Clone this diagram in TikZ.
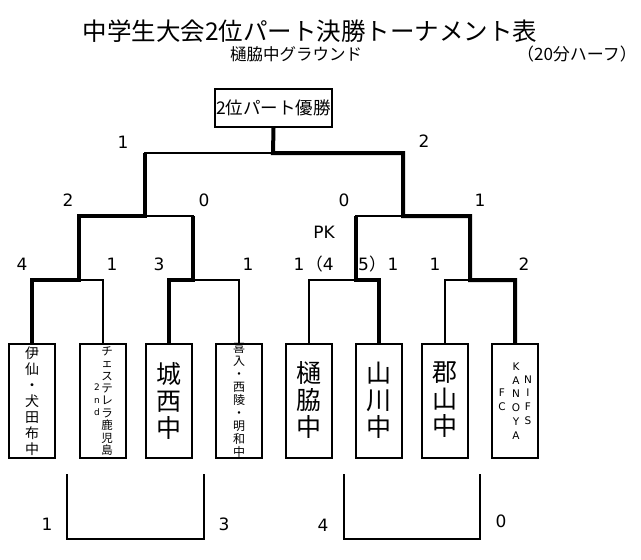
\documentclass[tikz,border=0pt]{standalone}
\usepackage{fontspec}
\newfontfamily\jp{Noto Sans CJK JP}
\newfontfamily\dv{DejaVu Sans}
\begin{document}
\begin{tikzpicture}[x=1pt,y=-1pt,
  thinl/.style={line width=1.8pt, line cap=rect},
  thickl/.style={line width=4pt, line join=miter},
  teambox/.style={draw, line width=2pt, minimum width=46pt, minimum height=114pt, inner sep=0pt},
  score/.style={font=\dv\fontsize{17}{17}\selectfont, inner sep=0pt, text height=12.4pt, text depth=0pt},
  colsmall/.style={font=\jp\fontsize{11.5}{12.4}\selectfont, align=center, inner sep=0pt},
  colmid/.style={font=\jp\fontsize{12}{13}\selectfont, align=center, inner sep=0pt},
  colone/.style={font=\jp\fontsize{14}{16}\selectfont, align=center, inner sep=0pt},
  colbig/.style={font=\jp\fontsize{25}{27}\selectfont, align=center, inner sep=0pt},
  collat/.style={font=\dv\fontsize{10.5}{13.7}\selectfont, align=center, inner sep=0pt},
  colnd/.style={font=\dv\fontsize{9}{12.5}\selectfont, align=center, inner sep=0pt}]
\useasboundingbox[fill=white] (0,0) rectangle (641,560);

% titles
\node[font=\jp\fontsize{24.5}{24.5}\selectfont, inner sep=0pt] (title) at (310,31) {中学生大会2位パート決勝トーナメント表};
\node[font=\jp\fontsize{16.5}{16.5}\selectfont, inner sep=0pt] (ground) at (296,54) {樋脇中グラウンド};
\node[font=\jp\fontsize{17}{17}\selectfont, inner sep=0pt] (half) at (577,54) {（20分ハーフ）};

% top box
\node[draw, line width=2pt, minimum width=117pt, minimum height=38pt, inner sep=0pt,
      font=\jp\fontsize{17.5}{17.5}\selectfont] (top) at (273.5,108) {2位パート優勝};

% team boxes
\node[teambox] (b1) at (32,401) {};
\node[teambox] (b2) at (103,401) {};
\node[teambox] (b3) at (169,401) {};
\node[teambox] (b4) at (239,401) {};
\node[teambox] (b5) at (309,401) {};
\node[teambox] (b6) at (379,401) {};
\node[teambox] (b7) at (445,401) {};
\node[teambox] (b8) at (515,401) {};

% team names
\node[colone] (t1) at (32,401) {伊\\仙\\・\\犬\\田\\布\\中};
\node[colsmall] (t2) at (107,401) {チ\\ェ\\ス\\テ\\レ\\ラ\\鹿\\児\\島};
\node[colnd] (t2b) at (97,400) {2\\n\\d};
\node[colbig] (t3) at (169,401) {城\\西\\中};
\node[colmid] (t4) at (239,400) {喜\\入\\・\\西\\陵\\・\\明\\和\\中};
\node[colbig] (t5) at (309,400) {樋\\脇\\中};
\node[colbig] (t6) at (379,400) {山\\川\\中};
\node[colbig] (t7) at (445,400) {郡\\山\\中};
\node[collat] (t8a) at (502,400) {F\\C};
\node[collat] (t8b) at (516,401) {K\\A\\N\\O\\Y\\A};
\node[collat] (t8c) at (528,400) {N\\I\\F\\S};

% junctions
\coordinate (q1) at (79,280);
\coordinate (q2) at (193,280);
\coordinate (q3) at (356,280);
\coordinate (q4) at (470,280);
\coordinate (s1) at (145,216);
\coordinate (s2) at (403,216);
\coordinate (f) at (273,153);

% bracket lines
\draw[thinl] (b2.north) |- (q1);
\draw[thinl] (b4.north) |- (q2);
\draw[thinl] (b5.north) |- (q3);
\draw[thinl] (b7.north) |- (q4);
\draw[thinl] (s1) -- (q2 |- s1);
\draw[thinl] (q3 |- s2) -- (s2);
\draw[thinl] (s1 |- f) -- (f);
\draw[thickl] (b1.north) |- (q1) -- (q1 |- s1) -- (s1) -- (s1 |- f);
\draw[thickl] (b3.north) |- (q2) -- (q2 |- s1);
\draw[thickl] (b6.north) |- (q3) -- (q3 |- s2);
\draw[thickl] (top.south) -- (f) -- (s2 |- f) -- (s2) -- (q4 |- s2) -- (q4) -- (b8.north |- q4) -- (b8.north);

% scores
\node[score] (sf1) at (123,142) {1};
\node[score] (sf2) at (424,141) {2};
\node[score] (ss1) at (68,200) {2};
\node[score] (ss2) at (204,200) {0};
\node[score] (ss3) at (344,200) {0};
\node[score] (ss4) at (480,200) {1};
\node[score] (pk) at (324,232) {PK};
\node[score] (r1) at (22,264) {4};
\node[score] (r2) at (112,264) {1};
\node[score] (r3) at (159,264) {3};
\node[score] (r4) at (248,264) {1};
\node[score] (r5) at (299,264) {1};
\node[score, anchor=east] (r5p) at (334,264) {{\jp （}4};
\node[score, anchor=west] (r6p) at (358,264) {5{\jp ）}};
\node[score] (r6) at (393,264) {1};
\node[score] (r7) at (435,264) {1};
\node[score] (r8) at (524,264) {2};

% bottom brackets
\coordinate (u1) at (67,475);
\coordinate (u2) at (204,475);
\coordinate (u3) at (344,475);
\coordinate (u4) at (480,475);
\coordinate (l1) at (67,539);
\coordinate (l3) at (344,539);
\draw[thinl] (u1) -- (l1) -| (u2);
\draw[thinl] (u3) -- (l3) -| (u4);
\node[score] (m1) at (47,524) {1};
\node[score] (m2) at (224,524) {3};
\node[score] (m3) at (323,525) {4};
\node[score] (m4) at (501,521) {0};
\end{tikzpicture}
\end{document}
